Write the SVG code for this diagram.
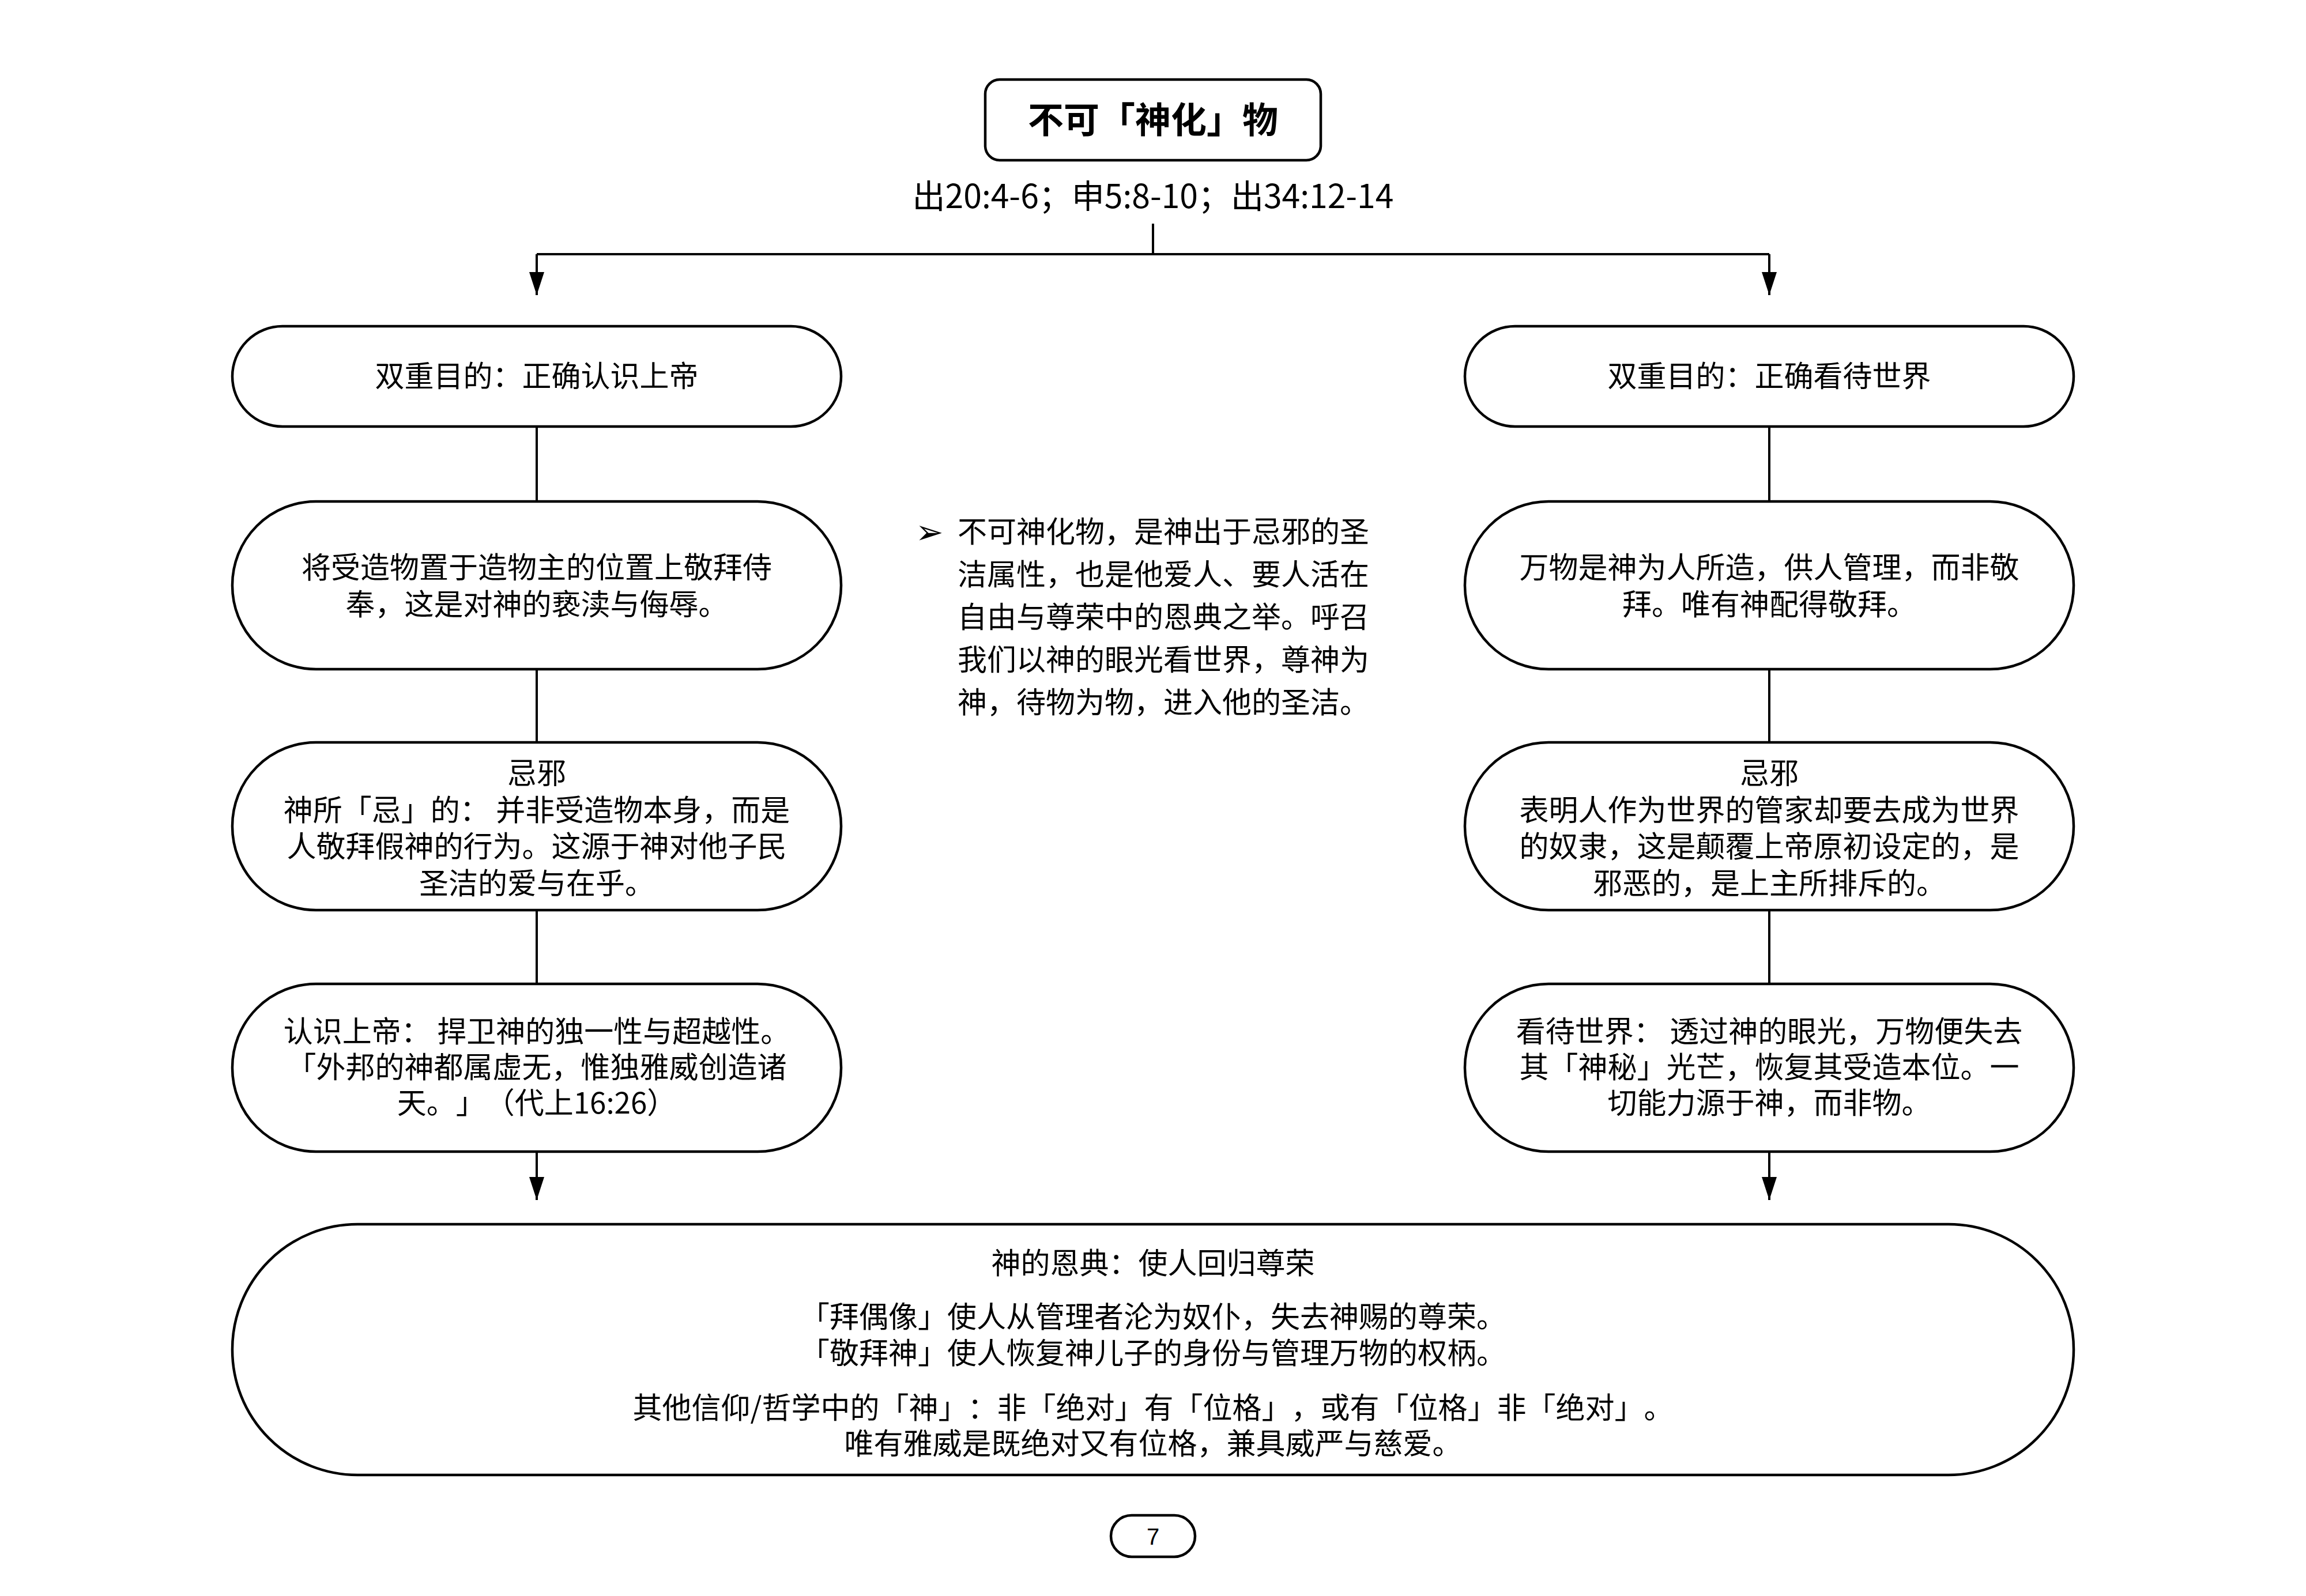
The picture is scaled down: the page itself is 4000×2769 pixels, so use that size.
<svg xmlns="http://www.w3.org/2000/svg" width="4000" height="2769" viewBox="0 0 4000 2769">
<style>
.box{fill:#fff;stroke:#000;stroke-width:4.5}
.t{font-family:"Noto Sans CJK SC","Noto Sans",sans-serif;font-size:51px;fill:#000;text-anchor:middle;text-spacing-trim:space-all}
.l{text-anchor:start}
.conn{stroke:#000;stroke-width:4;fill:none}
.arr{marker-end:url(#ah)}
</style>
<defs>
<marker id="ah" markerUnits="userSpaceOnUse" markerWidth="40" markerHeight="26" refX="40" refY="13" orient="auto">
<path d="M0,0 L40,13 L0,26 z" fill="#000"/>
</marker>
</defs>
<rect width="4000" height="2769" fill="#fff"/>
<g id="connectors">
<path class="conn" d="M2000,388 V441"/>
<path class="conn" d="M931,441 H3069"/>
<path class="conn arr" d="M931,441 V512"/>
<path class="conn arr" d="M3069,441 V512"/>
<path class="conn" d="M931,740 V870"/>
<path class="conn" d="M931,1161 V1288"/>
<path class="conn" d="M931,1579 V1707"/>
<path class="conn arr" d="M931,1997 V2082"/>
<path class="conn" d="M3069,740 V870"/>
<path class="conn" d="M3069,1161 V1288"/>
<path class="conn" d="M3069,1579 V1707"/>
<path class="conn arr" d="M3069,1997 V2082"/>
</g>
<g id="title">
<rect class="box" x="1709" y="138" width="582" height="140" rx="25"/>
<text class="t" x="2000" y="231" style="font-size:62px;font-weight:bold">不可「神化」物</text>
</g>
<g id="refs">
<text class="t" x="2000" y="361" style="font-size:57px">出20:4-6；申5:8-10；出34:12-14</text>
</g>
<g id="left1">
<rect class="box" x="403" y="566" width="1056" height="174" rx="87"/>
<text class="t" x="931" y="671">双重目的：正确认识上帝</text>
</g>
<g id="right1">
<rect class="box" x="2541" y="566" width="1056" height="174" rx="87"/>
<text class="t" x="3069" y="671">双重目的：正确看待世界</text>
</g>
<g id="left2">
<rect class="box" x="403" y="870" width="1056" height="291" rx="145"/>
<text class="t" x="931" y="1003">将受造物置于造物主的位置上敬拜侍</text>
<text class="t" x="931" y="1067">奉，这是对神的亵渎与侮辱。</text>
</g>
<g id="right2">
<rect class="box" x="2541" y="870" width="1056" height="291" rx="145"/>
<text class="t" x="3069" y="1003">万物是神为人所造，供人管理，而非敬</text>
<text class="t" x="3069" y="1067">拜。唯有神配得敬拜。</text>
</g>
<g id="left3">
<rect class="box" x="403" y="1288" width="1056" height="291" rx="145"/>
<text class="t" x="931" y="1360">忌邪</text>
<text class="t" x="931" y="1424">神所「忌」的： 并非受造物本身，而是</text>
<text class="t" x="931" y="1487">人敬拜假神的行为。这源于神对他子民</text>
<text class="t" x="931" y="1551">圣洁的爱与在乎。</text>
</g>
<g id="right3">
<rect class="box" x="2541" y="1288" width="1056" height="291" rx="145"/>
<text class="t" x="3069" y="1360">忌邪</text>
<text class="t" x="3069" y="1424">表明人作为世界的管家却要去成为世界</text>
<text class="t" x="3069" y="1487">的奴隶，这是颠覆上帝原初设定的，是</text>
<text class="t" x="3069" y="1551">邪恶的，是上主所排斥的。</text>
</g>
<g id="left4">
<rect class="box" x="403" y="1707" width="1056" height="291" rx="145"/>
<text class="t" x="931" y="1808">认识上帝： 捍卫神的独一性与超越性。</text>
<text class="t" x="931" y="1870">「外邦的神都属虚无，惟独雅威创造诸</text>
<text class="t" x="931" y="1932">天。」（代上16:26）</text>
</g>
<g id="right4">
<rect class="box" x="2541" y="1707" width="1056" height="291" rx="145"/>
<text class="t" x="3069" y="1808">看待世界： 透过神的眼光，万物便失去</text>
<text class="t" x="3069" y="1870">其「神秘」光芒，恢复其受造本位。一</text>
<text class="t" x="3069" y="1932">切能力源于神，而非物。</text>
</g>
<g id="note">
<text class="t l" x="1588" y="943" style="font-family:'DejaVu Sans',sans-serif;font-size:58px">➢</text>
<text class="t l" x="1661" y="941">不可神化物，是神出于忌邪的圣</text>
<text class="t l" x="1661" y="1015">洁属性，也是他爱人、要人活在</text>
<text class="t l" x="1661" y="1089">自由与尊荣中的恩典之举。呼召</text>
<text class="t l" x="1661" y="1163">我们以神的眼光看世界，尊神为</text>
<text class="t l" x="1661" y="1237">神，待物为物，进入他的圣洁。</text>
</g>
<g id="bottom">
<rect class="box" x="403" y="2124" width="3194" height="435" rx="217"/>
<text class="t" x="2000" y="2210">神的恩典：使人回归尊荣</text>
<text class="t" x="2000" y="2303">「拜偶像」使人从管理者沦为奴仆，失去神赐的尊荣。</text>
<text class="t" x="2000" y="2366">「敬拜神」使人恢复神儿子的身份与管理万物的权柄。</text>
<text class="t" x="2000" y="2461">其他信仰/哲学中的「神」：非「绝对」有「位格」，或有「位格」非「绝对」。</text>
<text class="t" x="2000" y="2523">唯有雅威是既绝对又有位格，兼具威严与慈爱。</text>
</g>
<g id="page">
<rect class="box" x="1927" y="2629" width="146" height="72" rx="36"/>
<text class="t" x="2000" y="2680" style="font-family:'Liberation Sans',Arial,sans-serif;font-size:40px">7</text>
</g>
</svg>
